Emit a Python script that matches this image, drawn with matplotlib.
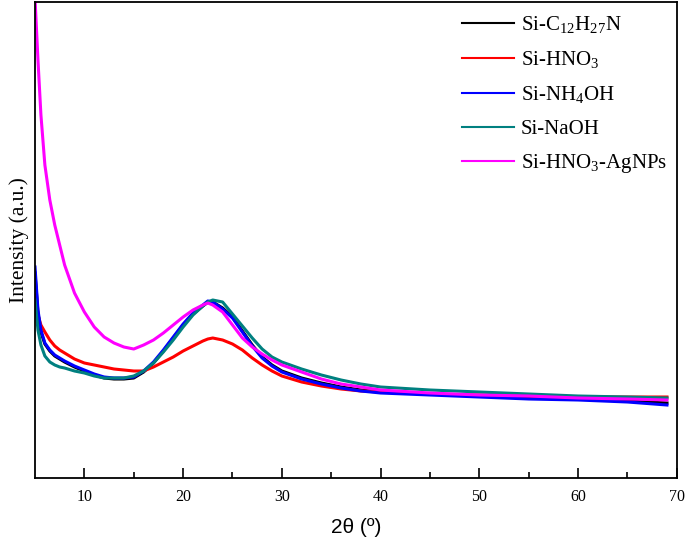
import matplotlib
matplotlib.use("Agg")
import matplotlib.pyplot as plt

two_theta = [5, 5.3, 5.6, 6, 6.5, 7, 7.5, 8, 9, 10,
             11, 12, 13, 14, 15, 16, 17, 18, 19, 20, 21, 22,
             22.5, 23, 24, 25, 26, 27, 28, 29, 30,
             32, 34, 36, 38, 40, 45, 50, 55, 60, 65, 69]

si_c12h27n = [205, 165, 146, 134, 127, 122, 119, 116, 111, 107,
              103, 100, 99, 99, 100, 106, 115, 127, 140, 153, 164, 172,
              176, 176, 170, 161, 147, 133, 121, 113, 107,
              100, 95, 91, 88, 86, 84, 82, 80, 79, 77, 75]
si_hno3 = [188, 163, 153, 146, 138, 132, 128, 125, 119, 115,
           113, 111, 109, 108, 107, 107, 111, 116, 121, 127, 132, 137,
           139, 140, 138, 134, 128, 120, 113, 107, 102,
           96, 92, 89, 87, 86, 84, 83, 82, 81, 81, 81]
si_nh4oh = [211, 168, 148, 135, 128, 123, 120, 117, 112, 108,
            104, 101, 100, 100, 101, 107, 116, 128, 141, 154, 165, 173,
            177, 176, 169, 160, 146, 132, 120, 112, 106,
            99, 94, 90, 87, 85, 83, 81, 79, 78, 76, 73]
si_naoh = [178, 148, 133, 122, 116, 113, 111, 110, 107, 105,
           102, 100, 100, 100, 102, 107, 115, 126, 138, 151, 163, 172,
           176, 178, 176, 164, 152, 140, 129, 121, 116,
           109, 103, 98, 94, 91, 88, 86, 84, 82, 81, 80]
si_hno3_agnps = [480, 418, 363, 313, 278, 253, 233, 213, 185, 166,
                 151, 141, 135, 131, 129, 133, 138, 145, 153, 161, 168, 173,
                 175, 173, 166, 153, 140, 131, 124, 118, 113,
                 106, 99, 94, 91, 88, 85, 83, 82, 80, 79, 78]

labels = [r'Si-C$_\mathregular{12}$H$_\mathregular{27}$N',
          r'Si-HNO$_\mathregular{3}$',
          r'Si-NH$_\mathregular{4}$OH',
          'Si-NaOH',
          r'Si-HNO$_\mathregular{3}$-AgNPs']
colors = ['#000000', '#ff0000', '#0000ff', '#008080', '#ff00ff']
series = [si_c12h27n, si_hno3, si_nh4oh, si_naoh, si_hno3_agnps]

plt.rcParams['font.family'] = ['Liberation Serif', 'DejaVu Serif']
plt.rcParams['mathtext.fontset'] = 'custom'
plt.rcParams['mathtext.rm'] = 'Liberation Serif'

fig = plt.figure(figsize=(6.85, 5.43), dpi=100)
ax = fig.add_axes([0.0511, 0.1197, 0.937, 0.8766])

for ys, c, lab in zip(series, colors, labels):
    ax.plot(two_theta, ys, color=c, lw=2.2, label=lab)

ax.set_xlim(5, 70)
ax.set_ylim(0, 476)
ax.set_xticks([10, 20, 30, 40, 50, 60, 70])
ax.set_xticks([15, 25, 35, 45, 55, 65], minor=True)
ax.set_yticks([])
ax.tick_params(axis='x', which='major', direction='in', length=7, width=1.2,
               labelsize=11.5, pad=8)
ax.tick_params(axis='x', which='minor', direction='in', length=4, width=1.2)
for s in ax.spines.values():
    s.set_linewidth(1.3)

ax.set_xlabel('2θ (º)', fontsize=15, family=['Liberation Sans', 'DejaVu Sans'], labelpad=9)
ax.set_ylabel('Intensity (a.u.)', fontsize=15.5, labelpad=4)

leg = ax.legend(loc='upper right', frameon=False, fontsize=15, handlelength=2.5,
                handletextpad=0.3, labelspacing=0.64, borderaxespad=0.2,
                bbox_to_anchor=(1.004, 1.0))
for h in leg.get_lines():
    h.set_linewidth(1.5)

fig.savefig('out.png', dpi=100)
